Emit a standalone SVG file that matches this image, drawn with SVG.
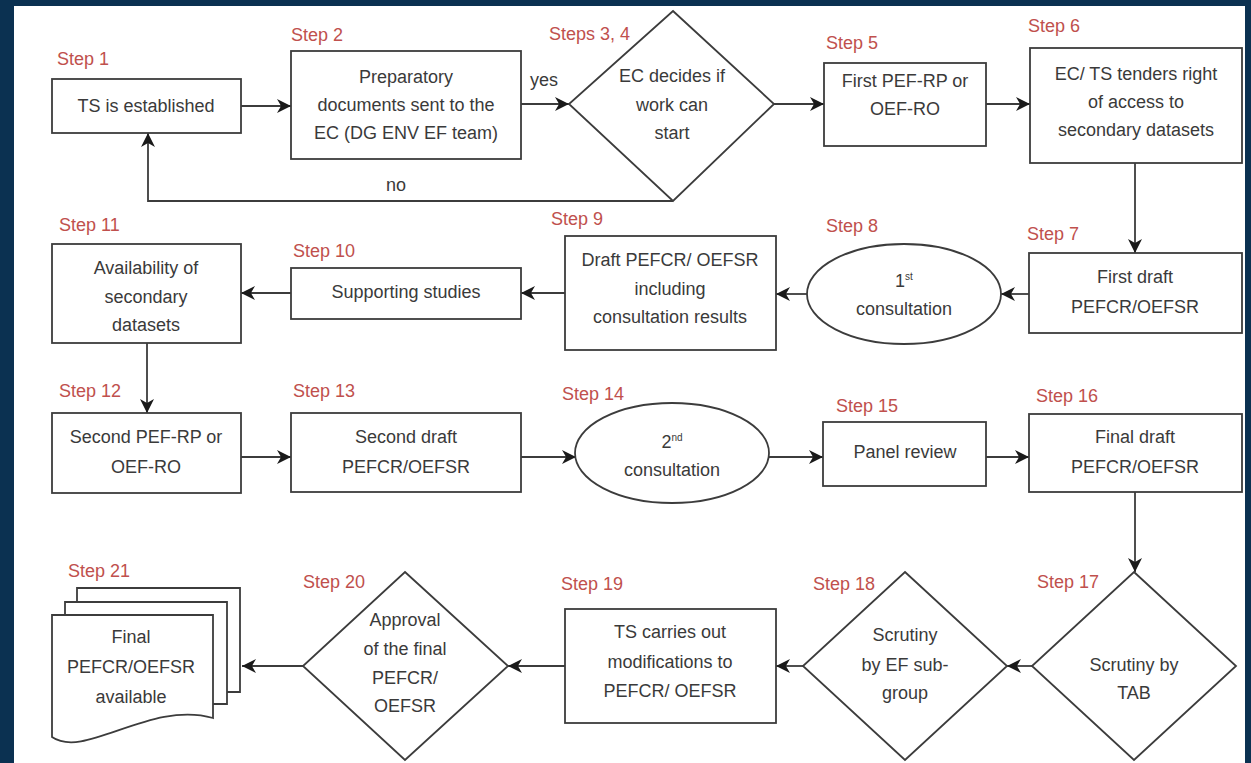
<svg xmlns="http://www.w3.org/2000/svg" width="1251" height="763" viewBox="0 0 1251 763">
<style>
.box{fill:#fff;stroke:#3c3c3c;stroke-width:1.8}
.t{font-family:"Liberation Sans",Arial,sans-serif;font-size:18px;fill:#3a3a3a;text-anchor:middle}
.lbl{font-family:"Liberation Sans",Arial,sans-serif;font-size:18px;fill:#c0504d}
.c{fill:none;stroke:#3c3c3c;stroke-width:1.8;marker-end:url(#ah)}
.sup{font-size:10px}
</style>
<defs>
<marker id="ah" markerUnits="userSpaceOnUse" markerWidth="14" markerHeight="14" viewBox="0 0 12 12" refX="12" refY="6" orient="auto">
<path d="M0,0 L12,6 L0,12 L3.5,6 Z" fill="#1a1a1a"/>
</marker>
</defs>
<rect x="0" y="0" width="1251" height="763" fill="#0b3151"/>
<rect x="14" y="6" width="1231" height="757" fill="#fff"/>

<g id="connectors">
<path class="c" d="M241,106 H291"/>
<path class="c" d="M521,104 H569"/>
<path class="c" d="M774,104 H824"/>
<path class="c" d="M986,104 H1030"/>
<path class="c" d="M1135,163 V253"/>
<path class="c" d="M1029,294 H1001"/>
<path class="c" d="M807,294 H776"/>
<path class="c" d="M565,293 H521"/>
<path class="c" d="M291,293 H241"/>
<path class="c" d="M147,343 V413"/>
<path class="c" d="M241,457 H291"/>
<path class="c" d="M521,457 H576"/>
<path class="c" d="M769,457 H823"/>
<path class="c" d="M986,457 H1029"/>
<path class="c" d="M1135,492 V572"/>
<path class="c" d="M1032,666 H1007"/>
<path class="c" d="M803,666 H776"/>
<path class="c" d="M565,666 H508"/>
<path class="c" d="M303,666 H242"/>
<path class="c" d="M673,201 H148 V133"/>
<text class="t" x="544" y="86">yes</text>
<text class="t" x="396" y="191">no</text>
</g>

<g id="step1">
<text class="lbl" x="57" y="65">Step 1</text>
<rect class="box" x="52" y="79" width="189" height="54"/>
<text class="t" x="146" y="112">TS is established</text>
</g>

<g id="step2">
<text class="lbl" x="291" y="41">Step 2</text>
<rect class="box" x="291" y="51" width="230" height="108"/>
<text class="t" x="406" y="83">Preparatory</text>
<text class="t" x="406" y="111">documents  sent to the</text>
<text class="t" x="406" y="139">EC (DG ENV EF team)</text>
</g>

<g id="step3-4">
<text class="lbl" x="549" y="40">Steps 3, 4</text>
<polygon class="box" points="673,11 774,104 673,201 569,104"/>
<text class="t" x="672" y="82">EC decides if</text>
<text class="t" x="672" y="111">work can</text>
<text class="t" x="672" y="139">start</text>
</g>

<g id="step5">
<text class="lbl" x="826" y="49">Step 5</text>
<rect class="box" x="824" y="63" width="162" height="83"/>
<text class="t" x="905" y="87">First PEF-RP or</text>
<text class="t" x="905" y="115">OEF-RO</text>
</g>

<g id="step6">
<text class="lbl" x="1028" y="32">Step 6</text>
<rect class="box" x="1030" y="48" width="212" height="115"/>
<text class="t" x="1136" y="80">EC/ TS tenders right</text>
<text class="t" x="1136" y="108">of access to</text>
<text class="t" x="1136" y="136">secondary datasets</text>
</g>

<g id="step7">
<text class="lbl" x="1027" y="240">Step 7</text>
<rect class="box" x="1029" y="253" width="213" height="80"/>
<text class="t" x="1135" y="283">First draft</text>
<text class="t" x="1135" y="313">PEFCR/OEFSR</text>
</g>

<g id="step8">
<text class="lbl" x="826" y="232">Step 8</text>
<ellipse class="box" cx="904" cy="294" rx="97" ry="50"/>
<text class="t" x="904" y="287">1<tspan class="sup" dy="-7">st</tspan></text>
<text class="t" x="904" y="315">consultation</text>
</g>

<g id="step9">
<text class="lbl" x="551" y="225">Step 9</text>
<rect class="box" x="565" y="236" width="211" height="114"/>
<text class="t" x="670" y="266">Draft PEFCR/ OEFSR</text>
<text class="t" x="670" y="295">including</text>
<text class="t" x="670" y="323">consultation  results</text>
</g>

<g id="step10">
<text class="lbl" x="293" y="257">Step 10</text>
<rect class="box" x="291" y="268" width="230" height="51"/>
<text class="t" x="406" y="298">Supporting  studies</text>
</g>

<g id="step11">
<text class="lbl" x="59" y="231">Step 11</text>
<rect class="box" x="52" y="244" width="189" height="99"/>
<text class="t" x="146" y="274">Availability  of</text>
<text class="t" x="146" y="303">secondary</text>
<text class="t" x="146" y="331">datasets</text>
</g>

<g id="step12">
<text class="lbl" x="59" y="397">Step 12</text>
<rect class="box" x="52" y="413" width="189" height="80"/>
<text class="t" x="146" y="443">Second  PEF-RP or</text>
<text class="t" x="146" y="473">OEF-RO</text>
</g>

<g id="step13">
<text class="lbl" x="293" y="397">Step 13</text>
<rect class="box" x="291" y="413" width="230" height="79"/>
<text class="t" x="406" y="443">Second draft</text>
<text class="t" x="406" y="473">PEFCR/OEFSR</text>
</g>

<g id="step14">
<text class="lbl" x="562" y="400">Step 14</text>
<ellipse class="box" cx="672" cy="453" rx="97" ry="50"/>
<text class="t" x="672" y="448">2<tspan class="sup" dy="-7">nd</tspan></text>
<text class="t" x="672" y="476">consultation</text>
</g>

<g id="step15">
<text class="lbl" x="836" y="412">Step 15</text>
<rect class="box" x="823" y="422" width="163" height="64"/>
<text class="t" x="905" y="458">Panel review</text>
</g>

<g id="step16">
<text class="lbl" x="1036" y="402">Step 16</text>
<rect class="box" x="1029" y="414" width="213" height="78"/>
<text class="t" x="1135" y="443">Final draft</text>
<text class="t" x="1135" y="473">PEFCR/OEFSR</text>
</g>

<g id="step17">
<text class="lbl" x="1037" y="588">Step 17</text>
<polygon class="box" points="1134,572 1236,666 1134,760 1032,666"/>
<text class="t" x="1134" y="671">Scrutiny  by</text>
<text class="t" x="1134" y="699">TAB</text>
</g>

<g id="step18">
<text class="lbl" x="813" y="590">Step 18</text>
<polygon class="box" points="905,572 1007,666 905,760 803,666"/>
<text class="t" x="905" y="641">Scrutiny</text>
<text class="t" x="905" y="671">by EF sub-</text>
<text class="t" x="905" y="699">group</text>
</g>

<g id="step19">
<text class="lbl" x="561" y="590">Step 19</text>
<rect class="box" x="565" y="609" width="211" height="114"/>
<text class="t" x="670" y="638">TS carries out</text>
<text class="t" x="670" y="668">modifications  to</text>
<text class="t" x="670" y="697">PEFCR/ OEFSR</text>
</g>

<g id="step20">
<text class="lbl" x="303" y="588">Step 20</text>
<polygon class="box" points="405,572 508,666 405,760 303,666"/>
<text class="t" x="405" y="626">Approval</text>
<text class="t" x="405" y="655">of the final</text>
<text class="t" x="405" y="684">PEFCR/</text>
<text class="t" x="405" y="712">OEFSR</text>
</g>

<g id="step21">
<text class="lbl" x="68" y="577">Step 21</text>
<path class="box" d="M77,602 V588 H240 V692 H227"/>
<path class="box" d="M65,615 V602 H227 V704 H213"/>
<path class="box" d="M52,615 H213 V718 C150,700 85,760 52,737 Z"/>
<text class="t" x="131" y="643">Final</text>
<text class="t" x="131" y="673">PEFCR/OEFSR</text>
<text class="t" x="131" y="703">available</text>
</g>
</svg>
